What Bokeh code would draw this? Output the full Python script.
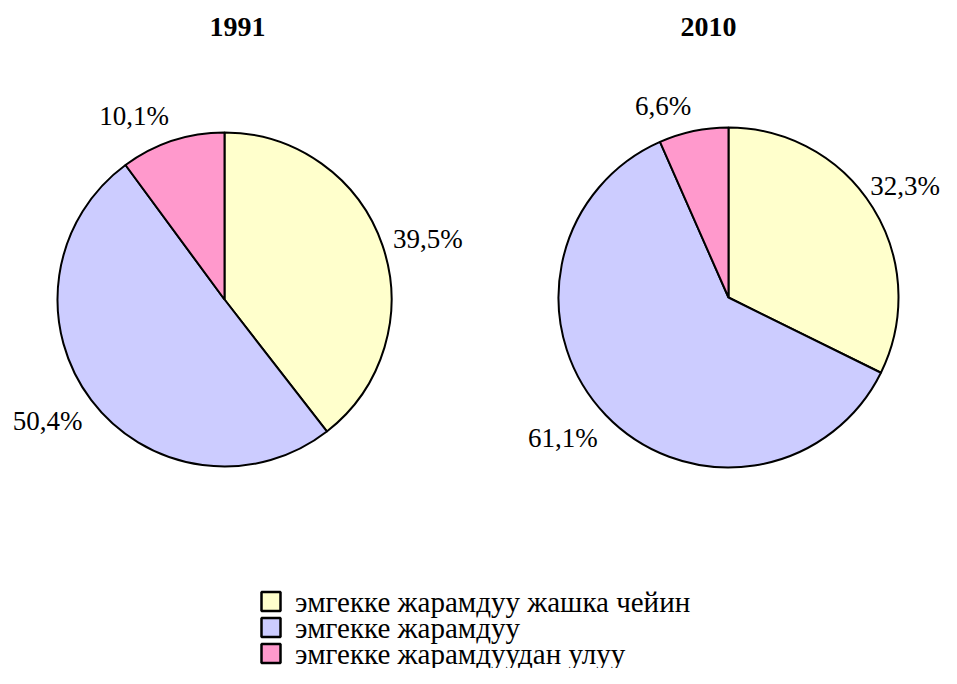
import math
from bokeh.plotting import figure
from bokeh.models import Range1d, ColumnDataSource
from bokeh.core.properties import value
from bokeh.embed import file_html
from bokeh.resources import INLINE

# ---- data ----
categories = ["эмгекке жарамдуу жашка чейин", "эмгекке жарамдуу", "эмгекке жарамдуудан улуу"]
years = ["1991", "2010"]
shares_1991 = [39.5, 50.4, 10.1]
shares_2010 = [32.3, 61.1, 6.6]
colors = ["#FFFFCC", "#CCCCFF", "#FF99CC"]

W, H = 941, 668
SERIF = "Liberation Serif"
LABEL_PX = 27

p = figure(width=W, height=H, output_backend="svg", toolbar_location=None,
           x_range=Range1d(0, W), y_range=Range1d(0, H),
           x_axis_type=None, y_axis_type=None, min_border=0)
p.grid.visible = False
p.outline_line_color = None
p.background_fill_color = "white"

# layout: (centre x, centre y, radius, title x) in frame pixels
pies = [
    (shares_1991, 224, H - 299, 167, 237),
    (shares_2010, 728, H - 297, 170, 708),
]

for (shares, cx, cy, r, tx), year in zip(pies, years):
    total = sum(shares)
    starts, ends, lx, ly, la, lyo, txt = [], [], [], [], [], [], []
    cum = 0.0
    for s in shares:
        a0 = cum / total * 2 * math.pi
        a1 = (cum + s) / total * 2 * math.pi
        starts.append(math.pi / 2 - a0)
        ends.append(math.pi / 2 - a1)
        mid = (a0 + a1) / 2
        dx, dy = math.sin(mid), math.cos(mid)
        rr = r + 11
        t = f"{s:.1f}".replace(".", ",") + "%"
        est_w = LABEL_PX * 2.6
        x = cx + rr * dx
        yo = -dy * 18 + 3
        if dx >= 0 and x > W - est_w - 1:
            # label pushed inward by the right edge: lift it clear of the outline
            x = W - est_w - 1
            yo -= 9
        lx.append(x)
        ly.append(cy + rr * dy)
        la.append("left" if dx >= 0 else "right")
        lyo.append(yo)
        txt.append(t)
        cum += s
    src = ColumnDataSource(dict(start=starts, end=ends, color=colors,
                                x=[cx] * 3, y=[cy] * 3))
    p.wedge(x="x", y="y", radius=r, start_angle="start", end_angle="end",
            direction="clock", fill_color="color", line_color="black",
            line_width=2, source=src)
    lsrc = ColumnDataSource(dict(x=lx, y=ly, t=txt, a=la, yo=lyo))
    p.text(x="x", y="y", text="t", text_align="a", text_baseline="middle",
           y_offset="yo", text_font=value(SERIF), text_font_size=f"{LABEL_PX}px",
           text_color="black", source=lsrc)
    p.text(x=[tx], y=[H - 26], text=[year], text_align="center",
           text_baseline="middle", text_font=value(SERIF),
           text_font_size="28px", text_font_style="bold", text_color="black")

# legend (drawn as marks: squares + labels)
leg_x, leg_top, leg_step = 270.5, H - 601, 26
ly_leg = [leg_top - i * leg_step for i in range(len(categories))]
p.rect(x=[leg_x] * 3, y=ly_leg, width=19, height=19, width_units="screen",
       height_units="screen", fill_color=colors, line_color="black", line_width=2.5)
p.text(x=[leg_x + 24] * 3, y=ly_leg, text=categories, text_align="left",
       text_baseline="middle", text_font=value(SERIF), text_font_size="29px",
       text_color="black")

open("out.html", "w").write(file_html(p, INLINE))
